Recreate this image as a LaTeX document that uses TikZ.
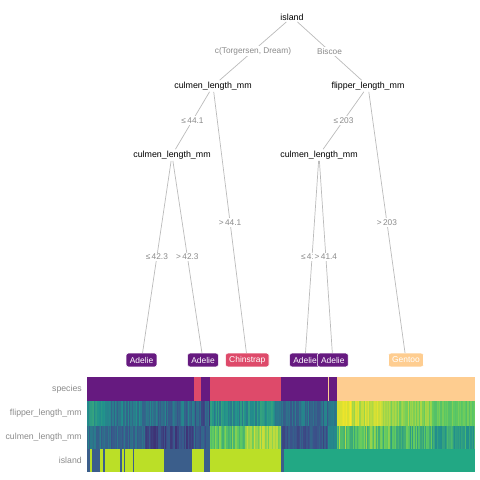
\documentclass[tikz,border=0pt]{standalone}
\usepackage{fontspec}
\setmainfont{Liberation Sans}
\usetikzlibrary{positioning}

\definecolor{vir0}{HTML}{440154}
\definecolor{vir1}{HTML}{3B528B}
\definecolor{vir2}{HTML}{21918C}
\definecolor{vir3}{HTML}{5EC962}
\definecolor{vir4}{HTML}{FDE725}
\definecolor{adelie}{HTML}{661A80}
\definecolor{chinstrap}{HTML}{DE4A6A}
\definecolor{gentoo}{HTML}{FECD90}
\definecolor{islteal}{HTML}{22A884}
\definecolor{islblue}{HTML}{3B5E8B}
\definecolor{isllime}{HTML}{BBDF27}
\definecolor{edgegray}{HTML}{BBBBBB}
\definecolor{labgray}{HTML}{8A8A8A}

% viridis colour for a value in [0,1]
\newcommand\setvir[2]{%
  \pgfmathsetmacro\virT{4*max(0,min(0.999,#2))}%
  \pgfmathtruncatemacro\virI{\virT}%
  \pgfmathtruncatemacro\virP{100-100*(\virT-\virI)}%
  \ifcase\virI\relax \colorlet{#1}{vir0!\virP!vir1}%
  \or \colorlet{#1}{vir1!\virP!vir2}%
  \or \colorlet{#1}{vir2!\virP!vir3}%
  \else \colorlet{#1}{vir3!\virP!vir4}\fi}

\begin{document}
\begin{tikzpicture}[x=0.025cm,y=-0.025cm,
    var/.style={font=\fontsize{6.3}{7}\selectfont,inner sep=1pt},
    elab/.style={font=\fontsize{5.9}{6}\selectfont,text=labgray,fill=white,inner sep=1pt},
    leaf/.style={rectangle,rounded corners=1.5pt,draw=white,line width=0.4pt,
                 text=white,font=\fontsize{6}{7}\selectfont,
                 inner xsep=2.6pt,inner ysep=0pt,minimum height=0.34cm},
    edge/.style={draw=edgegray,line width=0.5pt},
    rowlab/.style={font=\fontsize{6.2}{7}\selectfont,text=labgray,anchor=east,inner sep=0pt}]
  \useasboundingbox (0,0) rectangle (480,480);

  % tree nodes
  \node[var] (n1) at (292,17)  {island};
  \node[var] (n2) at (213,86)  {culmen\_length\_mm};
  \node[var] (n3) at (368,86)  {flipper\_length\_mm};
  \node[var] (n4) at (172,155) {culmen\_length\_mm};
  \node[var] (n5) at (319,155) {culmen\_length\_mm};
  \node[leaf,fill=adelie]    (l1) at (141.5,360) {Adelie};
  \node[leaf,fill=adelie]    (l2) at (203,360)   {Adelie};
  \node[leaf,fill=chinstrap] (l3) at (247.3,360) {Chinstrap};
  \node[leaf,fill=adelie]    (l4) at (305,360)   {Adelie};
  \node[leaf,fill=adelie]    (l5) at (332.8,360) {Adelie};
  \node[leaf,fill=gentoo]    (l6) at (406,360)   {Gentoo};

  % splits
  \draw[edge] (n1) -- node[elab] (e1) {c(Torgersen, Dream)} (n2);
  \draw[edge] (n1) -- node[elab] (e2) {Biscoe} (n3);
  \draw[edge] (n2) -- node[elab] (e3) {≤\,44.1} (n4);
  \draw[edge] (n2) -- node[elab] (e4) {>\,44.1} (l3);
  \draw[edge] (n4) -- node[elab] (e5) {≤\,42.3} (l1);
  \draw[edge] (n4) -- node[elab] (e6) {>\,42.3} (l2);
  \draw[edge] (n3) -- node[elab] (e7) {≤\,203} (n5);
  \draw[edge] (n3) -- node[elab] (e8) {>\,203} (l6);
  \draw[edge] (n5) -- node[elab] (e9) {≤\,41.4} (l4);
  \draw[edge] (n5) -- node[elab] (e10) {>\,41.4} (l5);

  % heatmap rows
  \node[rowlab] (r1) at (82,389)   {species};
  \node[rowlab] (r2) at (82,413)   {flipper\_length\_mm};
  \node[rowlab] (r3) at (82,437)   {culmen\_length\_mm};
  \node[rowlab] (r4) at (82,460.5) {island};

  \foreach \xa/\xb/\c in {87/194/adelie, 194/201/chinstrap, 201/210/adelie,
      210/281/chinstrap, 281/328/adelie, 328/328.8/gentoo, 328.8/337/adelie,
      337/475/gentoo}
    \fill[\c] (\xa,377) rectangle (\xb,401);

  \pgfmathsetseed{42}
  \foreach \xa/\xb/\fm/\fs/\cm/\cs in {87/110/0.52/0.08/0.36/0.08,
      110/145/0.40/0.10/0.32/0.08, 145/194/0.36/0.10/0.22/0.08,
      194/210/0.28/0.10/0.30/0.10, 210/245/0.48/0.10/0.72/0.10,
      245/281/0.48/0.10/0.86/0.09, 281/328/0.36/0.10/0.26/0.07,
      328/337/0.40/0.05/0.45/0.04, 337/352/0.97/0.03/0.74/0.14,
      352/390/0.90/0.06/0.72/0.13, 390/432/0.82/0.06/0.66/0.12,
      432/475/0.75/0.05/0.58/0.10}{
    \pgfmathtruncatemacro\nst{(\xb-\xa)/1.15}
    \pgfmathsetmacro\wst{(\xb-\xa)/\nst}
    \foreach \k in {1,...,\nst}{
      \pgfmathsetmacro\xl{\xa+(\k-1)*\wst}
      \pgfmathsetmacro\tf{\fm+(2*rnd-1)*\fs}
      \pgfmathsetmacro\tc{\cm+(2*rnd-1)*\cs}
      \setvir{fcol}{\tf}\setvir{ccol}{\tc}
      \fill[fcol] (\xl,401) rectangle ++(\wst+0.3,24.5);
      \fill[ccol] (\xl,425.5) rectangle ++(\wst+0.3,23.5);
    }
  }

  \foreach \xa/\xb/\c in {87/89.7/islblue, 89.7/91.7/isllime, 91.7/100/islblue,
      100/103.3/isllime, 103.3/105/islblue, 105/120/isllime, 120/121.7/islblue,
      121.7/124/isllime, 124/125/islblue, 125/133.3/isllime, 133.3/134.3/islblue,
      134.3/164/isllime, 164/191.7/islblue, 191.7/204/isllime, 204/210/islblue,
      210/281/isllime, 281/284/islblue, 284/475/islteal}
    \fill[\c] (\xa,449) rectangle (\xb,472);
\end{tikzpicture}
\end{document}
